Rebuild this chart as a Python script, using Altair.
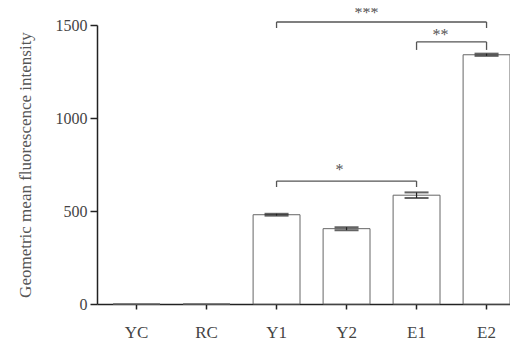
import altair as alt
import pandas as pd

groups = ["YC", "RC", "Y1", "Y2", "E1", "E2"]
means = [0, 0, 480, 405, 585, 1340]
errs = [0, 0, 5, 8, 15, 6]

br_from = ["Y1", "E1", "Y1"]
br_to = ["E2", "E2", "E1"]
br_top = [1516, 1409, 661]
br_leg = [1484, 1366, 629]
br_label = ["***", "**", "*"]
br_text_y = [1537, 1418, 692]

df = pd.DataFrame({"group": groups, "mean": means, "err": errs})
df["lo"] = df["mean"] - df["err"]
df["hi"] = df["mean"] + df["err"]
dfe = df[df["err"] > 0]
br = pd.DataFrame({"from": br_from, "to": br_to, "top": br_top, "leg": br_leg,
                   "label": br_label, "ty": br_text_y})

FONT = "Liberation Serif"
xscale = alt.Scale(domain=groups, paddingInner=0.33, paddingOuter=0.115, align=1)
yscale = alt.Scale(domain=[0, 1500], nice=False)

xenc = alt.X("group:N", scale=xscale, sort=groups,
             axis=alt.Axis(title=None, labelAngle=0, labelFont=FONT, labelFontSize=17,
                           labelColor="#444", labelPadding=15, tickSize=5,
                           tickColor="#222", domainColor="#222", domainWidth=1.5,
                           tickWidth=1.5))
yenc = alt.Y("mean:Q", scale=yscale,
             axis=alt.Axis(title="Geometric mean fluorescence intensity", values=[0, 500, 1000, 1500],
                           format="d", grid=False, labelFont=FONT, labelFontSize=16,
                           labelColor="#444", titleFont=FONT, titleFontSize=17,
                           titleColor="#555", titleFontWeight="normal", titlePadding=21,
                           tickSize=7, tickColor="#222", domainColor="#222", domainWidth=1.5,
                           tickWidth=1.5, labelPadding=3))

bars = alt.Chart(df).mark_bar(fill="white", stroke="#666", strokeWidth=1).encode(x=xenc, y=yenc)

err_rule = alt.Chart(dfe).mark_rule(color="#222", strokeWidth=1.2).encode(
    x=alt.X("group:N", scale=xscale, sort=groups), y=alt.Y("lo:Q", scale=yscale), y2="hi:Q")
cap_hi = alt.Chart(dfe).mark_tick(color="#222", thickness=2, size=24, orient="horizontal").encode(
    x=alt.X("group:N", scale=xscale, sort=groups), y=alt.Y("hi:Q", scale=yscale))
cap_lo = alt.Chart(dfe).mark_tick(color="#222", thickness=2, size=24, orient="horizontal").encode(
    x=alt.X("group:N", scale=xscale, sort=groups), y=alt.Y("lo:Q", scale=yscale))

bx = alt.X("from:N", scale=xscale, sort=groups)
h_line = alt.Chart(br).mark_rule(color="#555", strokeWidth=1.3, clip=False).encode(
    x=bx, x2="to:N", y=alt.Y("top:Q", scale=yscale))
leg_l = alt.Chart(br).mark_rule(color="#555", strokeWidth=1.3, clip=False).encode(
    x=bx, y=alt.Y("top:Q", scale=yscale), y2="leg:Q")
leg_r = alt.Chart(br).mark_rule(color="#555", strokeWidth=1.3, clip=False).encode(
    x=alt.X("to:N", scale=xscale, sort=groups), y=alt.Y("top:Q", scale=yscale), y2="leg:Q")

dxs = [90, 24, 63]
texts = []
for i in range(len(br_label)):
    texts.append(alt.Chart(br.iloc[[i]]).mark_text(
        font=FONT, fontSize=16, color="#555", dx=dxs[i], baseline="alphabetic", clip=False
    ).encode(x=bx, y=alt.Y("ty:Q", scale=yscale), text="label:N"))

chart = alt.layer(bars, err_rule, cap_hi, cap_lo, h_line, leg_l, leg_r, *texts).properties(
    width=413, height=279,
    autosize=alt.AutoSizeParams(type="none"),
    padding={"left": 89, "top": 17, "right": 0, "bottom": 39},
).configure(background="white", view=alt.ViewConfig(stroke="transparent"))

chart.save("out.html", embed_options={"renderer": "svg", "actions": False})
